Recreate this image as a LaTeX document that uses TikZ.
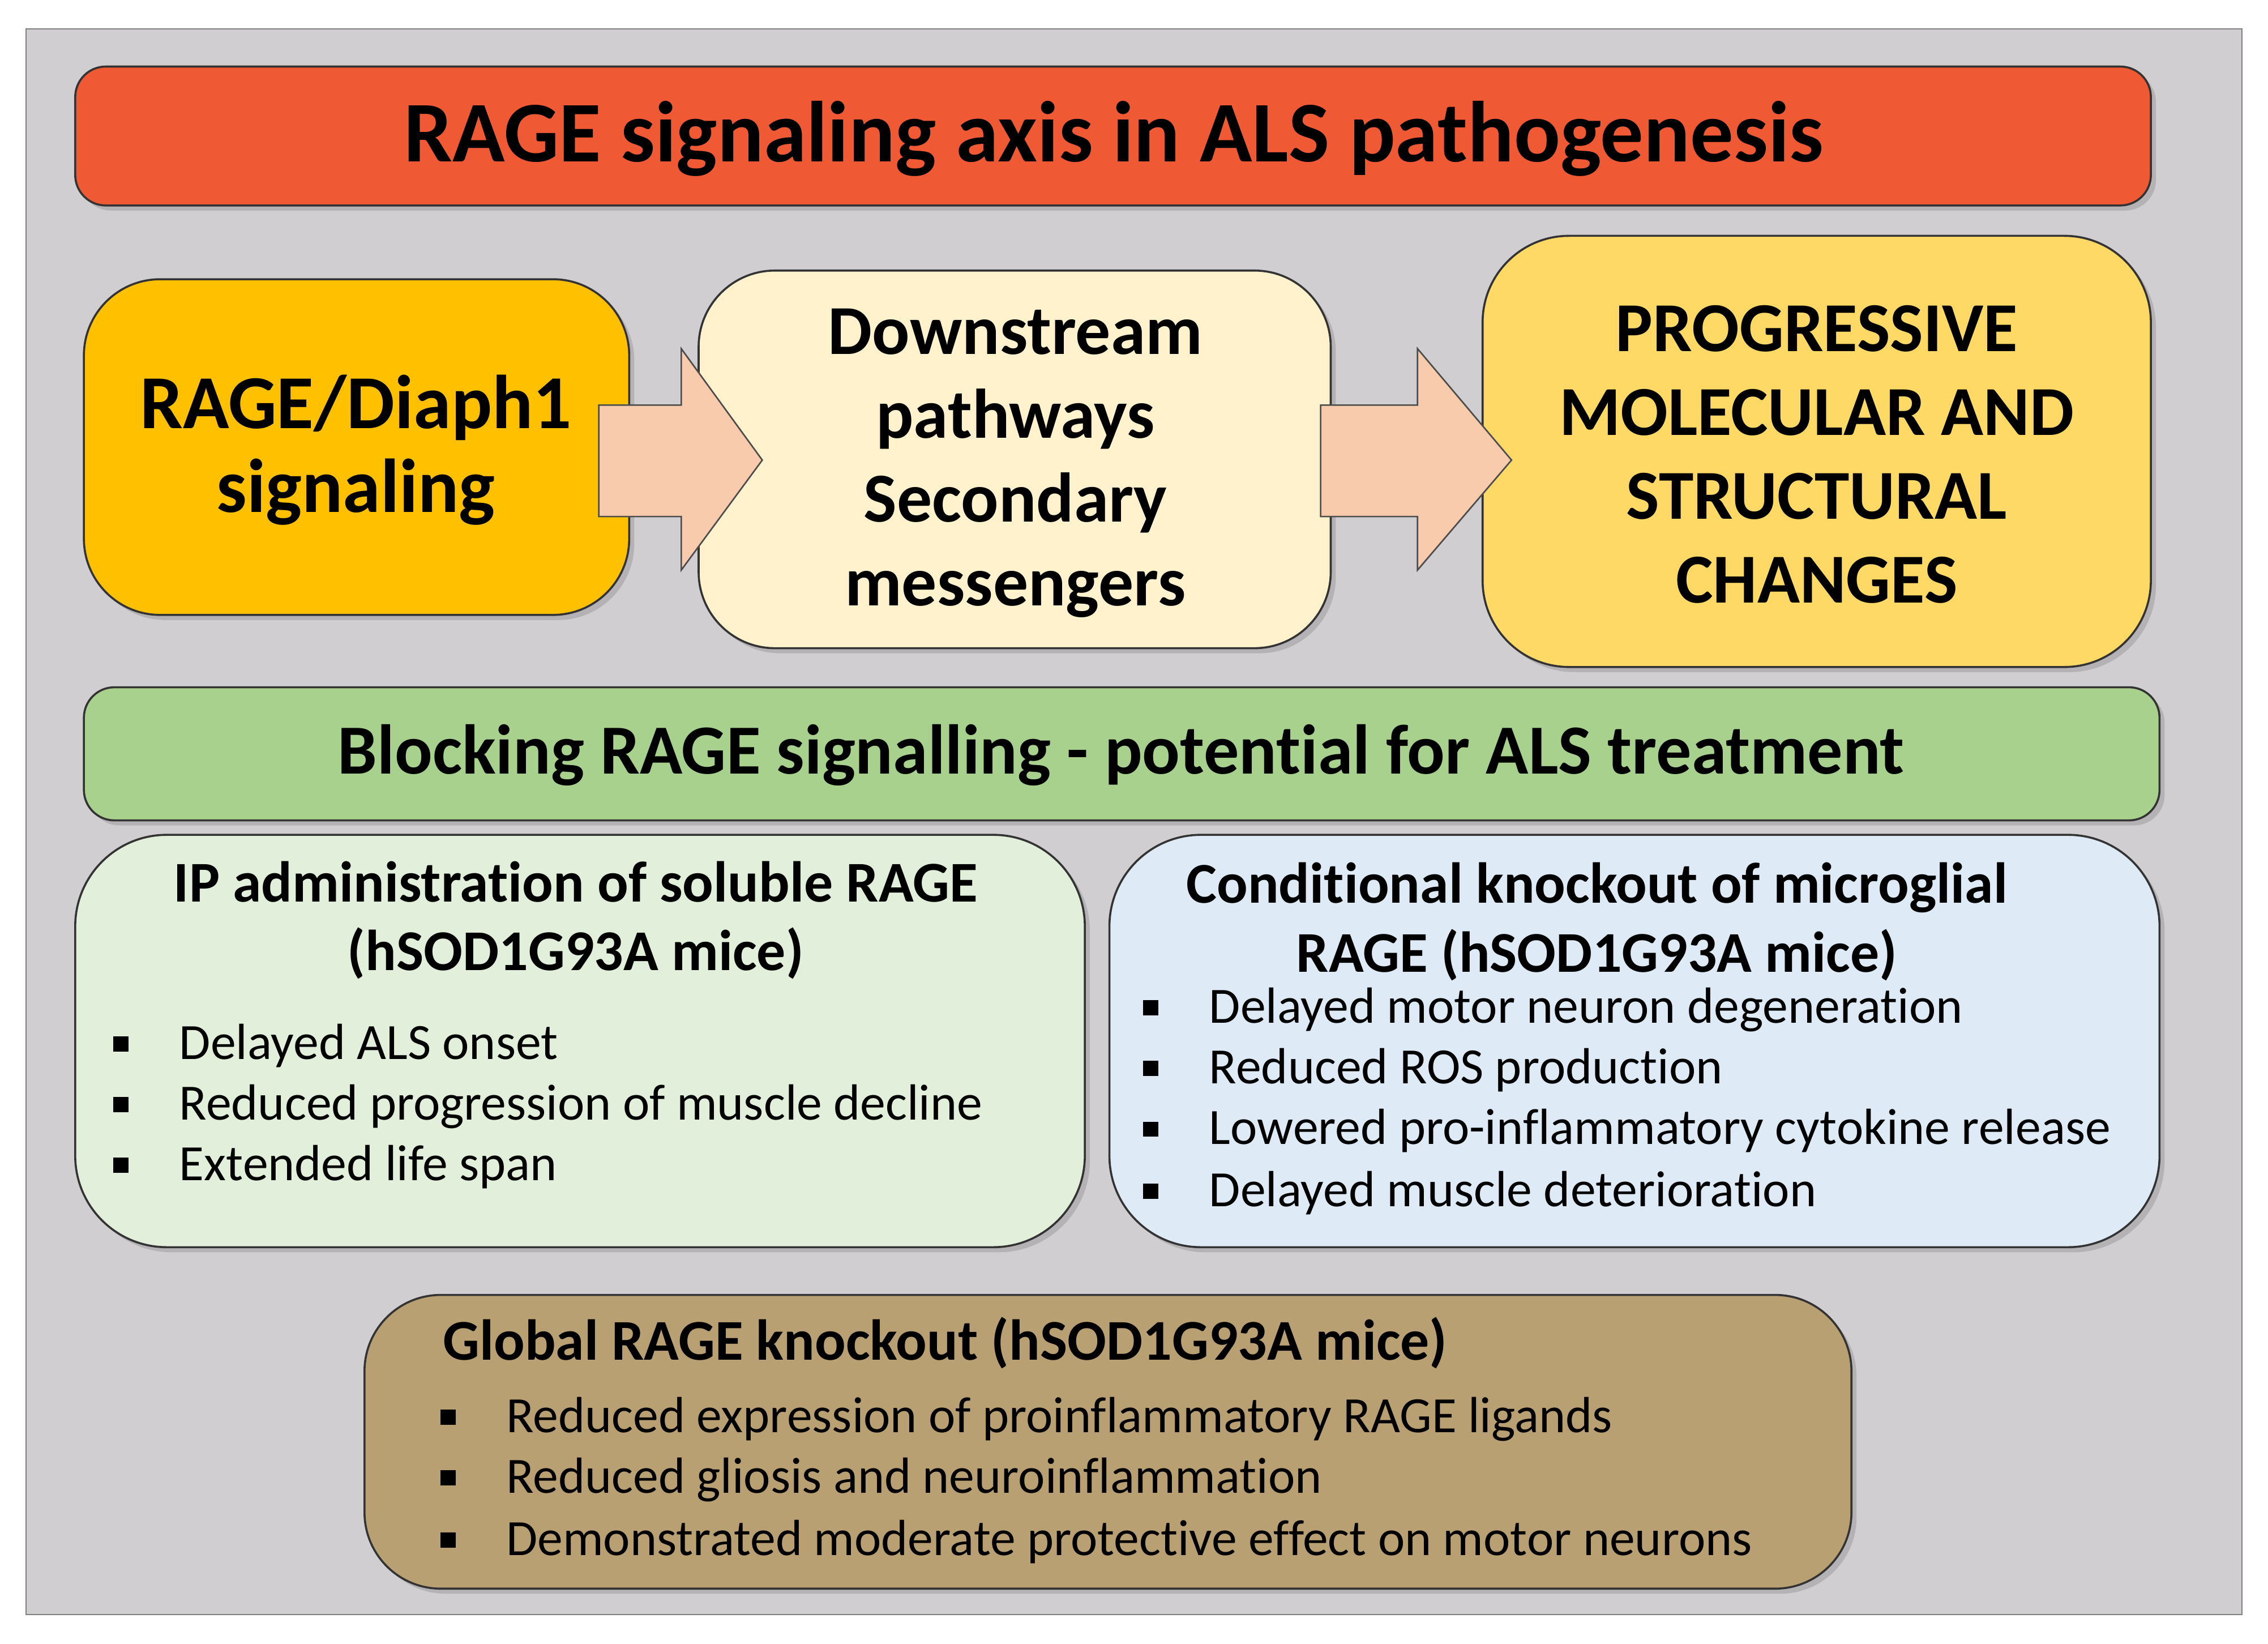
\documentclass[tikz,border=0pt]{standalone}
\usepackage{fontspec}
\setmainfont{Carlito}[Ligatures=NoCommon]
\usetikzlibrary{shadows}
\definecolor{bg}{RGB}{208,206,208}
\definecolor{titlec}{RGB}{239,90,52}
\definecolor{b1}{RGB}{255,192,0}
\definecolor{b2}{RGB}{255,242,204}
\definecolor{b3}{RGB}{255,217,102}
\definecolor{arr}{RGB}{248,203,173}
\definecolor{grn}{RGB}{169,209,142}
\definecolor{lgrn}{RGB}{226,239,218}
\definecolor{lblu}{RGB}{222,235,247}
\definecolor{brn}{RGB}{185,160,115}
\newcommand{\bsq}{\raisebox{0.15em}{\rule{0.3em}{0.3em}}\hspace{1.0em}}
\tikzset{
  panel/.style={draw=black!80, line width=0.8pt, rounded corners=22pt, drop shadow={opacity=0.35,shadow xshift=2pt,shadow yshift=-2pt}},
  bigtxt/.style={font=\fontsize{27.6}{33}\selectfont\bfseries, align=center},
  sub/.style={font=\fontsize{22.7}{27}\selectfont\bfseries, align=center},
  bl/.style={font=\fontsize{20}{24}\selectfont, anchor=base west, inner sep=0pt},
  barrow/.style={fill=arr, draw=black!70, line width=0.6pt}
}
\begin{document}
\begin{tikzpicture}[x=0.02cm,y=-0.02cm]
\useasboundingbox (0,0) rectangle (1568,1136);
\fill[white] (0,0) rectangle (1568,1136);
\fill[bg, draw=black!50] (18,20) rectangle (1550,1116);
% title
\draw[panel, fill=titlec, rounded corners=12pt] (52,46) rectangle (1487,142);
\node[font=\fontsize{34}{40}\selectfont\bfseries] (title) at (770,96) {RAGE signaling axis in ALS pathogenesis};
% boxes
\draw[panel, fill=b1, rounded corners=30pt] (58,193) rectangle (435,425);
\node[bigtxt, font=\fontsize{30}{33}\selectfont\bfseries] (n1) at (246,311) {RAGE/Diaph1\\signaling};
\draw[panel, fill=b2, rounded corners=30pt] (483,187) rectangle (920,448);
\node[bigtxt] (n2) at (702,320) {Downstream\\pathways\\Secondary\\messengers};
\draw[panel, fill=b3, rounded corners=34pt] (1025,163) rectangle (1487,461);
\node[bigtxt] (n3) at (1256,314) {PROGRESSIVE\\MOLECULAR AND\\STRUCTURAL\\CHANGES};
% arrows
\draw[barrow] (414,280) -- (471,280) -- (471,241) -- (527,318) -- (471,394) -- (471,357) -- (414,357) -- cycle;
\draw[barrow] (913,280) -- (980,280) -- (980,241) -- (1045,318) -- (980,394) -- (980,357) -- (913,357) -- cycle;
% green bar
\draw[panel, fill=grn, rounded corners=12pt] (58,475) rectangle (1493,567);
\node[font=\fontsize{27.7}{33}\selectfont\bfseries] (gb) at (775,522) {Blocking RAGE signalling - potential for ALS treatment};
% left box
\draw[panel, fill=lgrn, rounded corners=36pt] (52,577) rectangle (750,862);
\node[sub] (lt) at (398,636) {IP administration of soluble RAGE\\(hSOD1G93A mice)};
\node[bl] (l1) at (78,732) {\bsq Delayed ALS onset};
\node[bl] (l2) at (78,774) {\bsq Reduced progression of muscle decline};
\node[bl] (l3) at (78,816) {\bsq Extended life span};
% right box
\draw[panel, fill=lblu, rounded corners=36pt] (767,577) rectangle (1493,862);
\node[sub] (rt) at (1104,637) {Conditional knockout of microglial\\RAGE (hSOD1G93A mice)};
\node[bl] (r1) at (790,707) {\bsq Delayed motor neuron degeneration};
\node[bl] (r2) at (790,749) {\bsq Reduced ROS production};
\node[bl] (r3) at (790,791) {\bsq Lowered pro-inflammatory cytokine release};
\node[bl] (r4) at (790,834) {\bsq Delayed muscle deterioration};
% bottom box
\draw[panel, fill=brn, rounded corners=30pt] (252,895) rectangle (1280,1098);
\node[sub, anchor=west] (bt) at (300,928) {Global RAGE knockout (hSOD1G93A mice)};
\node[bl] (b1) at (304,990) {\bsq Reduced expression of proinflammatory RAGE ligands};
\node[bl] (b2) at (304,1032) {\bsq Reduced gliosis and neuroinflammation};
\node[bl] (b3) at (304,1075) {\bsq Demonstrated moderate protective effect on motor neurons};
\end{tikzpicture}
\end{document}
